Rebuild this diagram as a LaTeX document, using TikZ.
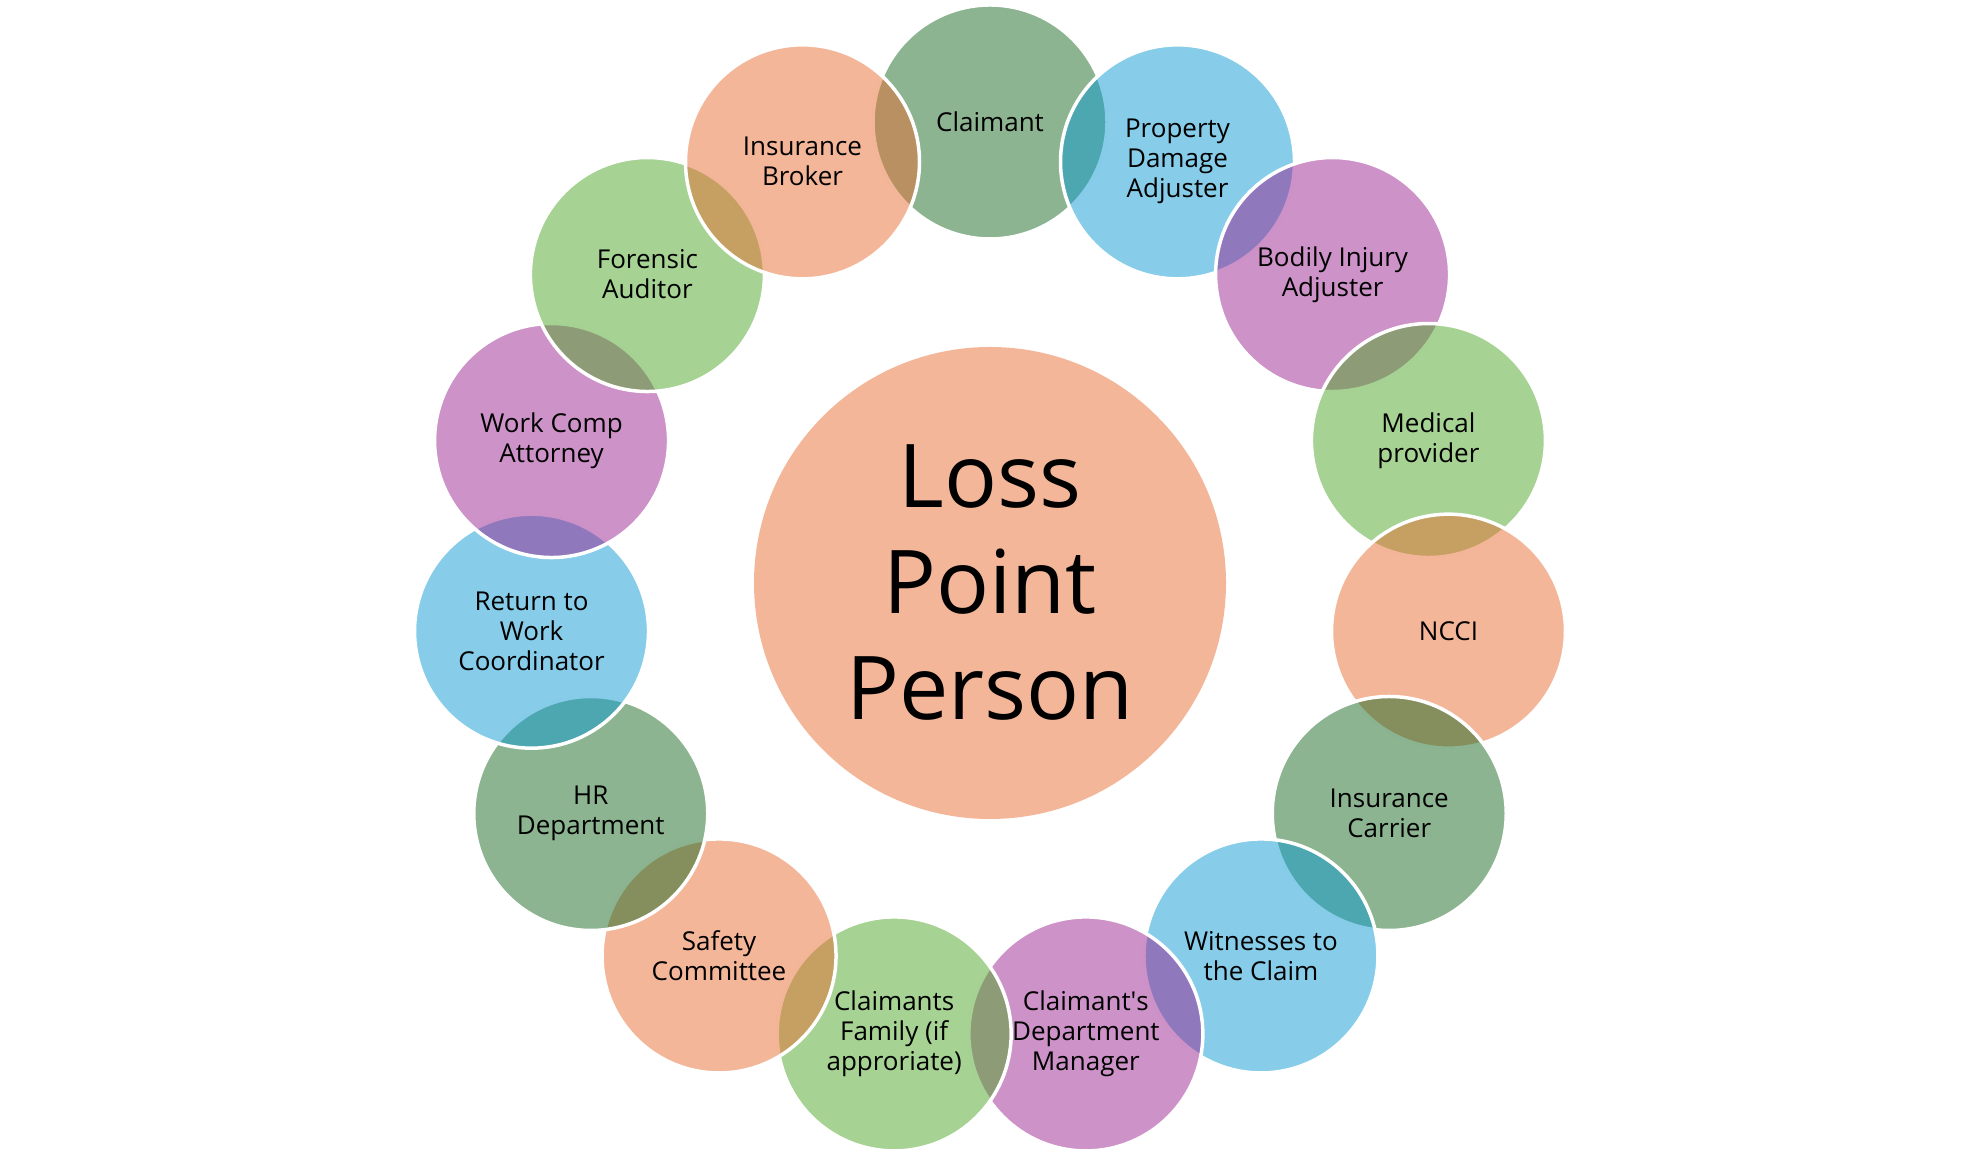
\documentclass[tikz,border=0pt]{standalone}
\usepackage{fontspec}
\setmainfont{Open Sans}
\definecolor{cDG}{RGB}{25,105,35}
\definecolor{cBL}{RGB}{15,155,211}
\definecolor{cPU}{RGB}{155,37,145}
\definecolor{cLG}{RGB}{77,165,39}
\definecolor{cOR}{RGB}{231,109,51}
\begin{document}
\begin{tikzpicture}[x=1pt,y=1pt,
  bub/.style={circle, minimum size=234pt, inner sep=0pt, fill opacity=0.5,
    text opacity=1, draw=white, draw opacity=1, line width=3.5pt, align=center,
    font=\fontsize{26}{30}\selectfont, text=black},
  hubstyle/.style={circle, minimum size=472pt, inner sep=0pt, fill=cOR, fill opacity=0.5,
    text opacity=1, align=center, font=\fontsize{88}{106}\selectfont, text=black}]
\useasboundingbox (0,0) rectangle (1980,1155);
\coordinate (O) at (990,572);
\node[hubstyle] (hub) at (O) {Loss\\Point\\Person};
\foreach \k/\col/\txt in {
  0/cDG/{Claimant},
  1/cBL/{Property\\Damage\\Adjuster},
  2/cPU/{Bodily Injury\\Adjuster},
  3/cLG/{Medical\\provider},
  4/cOR/{NCCI},
  5/cDG/{Insurance\\Carrier},
  6/cBL/{Witnesses to\\the Claim},
  7/cPU/{Claimant\textquotesingle s\\Department\\Manager},
  8/cLG/{Claimants\\Family (if\\approriate)},
  9/cOR/{Safety\\Committee},
  10/cDG/{HR\\Department},
  11/cBL/{Return to\\Work\\Coordinator},
  12/cPU/{Work Comp\\Attorney},
  13/cLG/{Forensic\\Auditor},
  14/cOR/{Insurance\\Broker}}
  \node[bub, fill=\col] (c\k) at ([shift={({90-24*\k}:461)}]O) {\txt};
\end{tikzpicture}
\end{document}
